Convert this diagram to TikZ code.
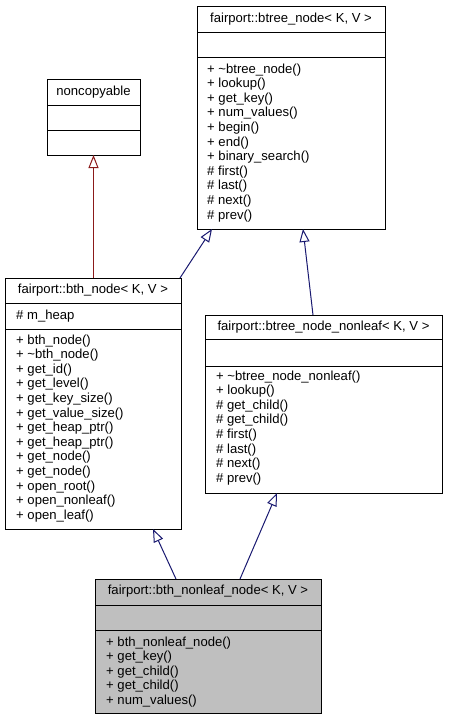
\documentclass[tikz,border=0pt]{standalone}
\usepackage{fontspec}
\setmainfont{Liberation Sans}
\usetikzlibrary{arrows.meta,calc}
\definecolor{edgeblue}{HTML}{191970}
\definecolor{edgered}{HTML}{8B1A1A}
\definecolor{boxgray}{HTML}{BFBFBF}
\tikzset{
  classbox/.style={draw=black, line width=1pt, anchor=north west, inner sep=0pt, outer sep=0pt},
  txt/.style={anchor=base west, inner sep=0pt, font=\fontsize{13.1}{14.6}\selectfont},
  ttl/.style={anchor=base, inner sep=0pt, font=\fontsize{13.1}{14.6}\selectfont},
  sepline/.style={line width=1pt},
  inherit/.style={-{Triangle[open,length=13pt,width=10pt]}, line width=1pt, draw=edgeblue},
  inheritred/.style={inherit, draw=edgered}
}
\begin{document}
\begin{tikzpicture}[x=1pt,y=-1pt]
\useasboundingbox (0,0) rectangle (448,720);
% noncopyable
\node[classbox, minimum width=93pt, minimum height=76pt] (nc) at (47,79) {};
\draw[sepline] (nc.west |- 0,105) -- (nc.east |- 0,105);
\draw[sepline] (nc.west |- 0,130) -- (nc.east |- 0,130);
\node[ttl] (nc-t) at (93.5,95) {noncopyable};
% btree_node
\node[classbox, minimum width=188pt, minimum height=223pt] (bt) at (197,6) {};
\draw[sepline] (bt.west |- 0,32) -- (bt.east |- 0,32);
\draw[sepline] (bt.west |- 0,57) -- (bt.east |- 0,57);
\node[ttl] (bt-t) at (291,22.5) {fairport::btree\_node< K, V >};
\foreach \t [count=\i from 0] in {+ \textasciitilde btree\_node(), + lookup(), + get\_key(), + num\_values(), + begin(), + end(), + binary\_search(), \# first(), \# last(), \# next(), \# prev()}
  \node[txt] (bt-\i) at (207,73+\i*14.6) {\t};
% bth_node
\node[classbox, minimum width=176pt, minimum height=251pt] (bth) at (5,278) {};
\draw[sepline] (bth.west |- 0,303) -- (bth.east |- 0,303);
\draw[sepline] (bth.west |- 0,329) -- (bth.east |- 0,329);
\node[ttl] (bth-t) at (93,293) {fairport::bth\_node< K, V >};
\node[txt] (bth-a) at (16,319) {\# m\_heap};
\foreach \t [count=\i from 0] in {+ bth\_node(), + \textasciitilde bth\_node(), + get\_id(), + get\_level(), + get\_key\_size(), + get\_value\_size(), + get\_heap\_ptr(), + get\_heap\_ptr(), + get\_node(), + get\_node(), + open\_root(), + open\_nonleaf(), + open\_leaf()}
  \node[txt] (bth-\i) at (16,344+\i*14.6) {\t};
% btree_node_nonleaf
\node[classbox, minimum width=237pt, minimum height=178pt] (nl) at (205,315) {};
\draw[sepline] (nl.west |- 0,339) -- (nl.east |- 0,339);
\draw[sepline] (nl.west |- 0,366) -- (nl.east |- 0,366);
\node[ttl] (nl-t) at (323.5,330) {fairport::btree\_node\_nonleaf< K, V >};
\foreach \t [count=\i from 0] in {+ \textasciitilde btree\_node\_nonleaf(), + lookup(), \# get\_child(), \# get\_child(), \# first(), \# last(), \# next(), \# prev()}
  \node[txt] (nl-\i) at (216,380+\i*14.6) {\t};
% bth_nonleaf_node
\node[classbox, fill=boxgray, minimum width=226pt, minimum height=134pt] (bnl) at (95,579) {};
\draw[sepline] (bnl.west |- 0,605) -- (bnl.east |- 0,605);
\draw[sepline] (bnl.west |- 0,630) -- (bnl.east |- 0,630);
\node[ttl] (bnl-t) at (208,594) {fairport::bth\_nonleaf\_node< K, V >};
\foreach \t [count=\i from 0] in {+ bth\_nonleaf\_node(), + get\_key(), + get\_child(), + get\_child(), + num\_values()}
  \node[txt] (bnl-\i) at (106,646+\i*14.6) {\t};
% inheritance edges
\draw[inheritred] (nc.south |- bth.north) -- (nc.south);
\draw[inherit] ($(bth.north east)+(-1,0)$) -- ($(bt.south west)+(15,0)$);
\draw[inherit] ($(nl.north west)+(108,0)$) -- ($(bt.south west)+(106,0)$);
\draw[inherit] ($(bnl.north west)+(81,0)$) -- ($(bth.south west)+(148,0)$);
\draw[inherit] ($(bnl.north west)+(145,0)$) -- ($(nl.south west)+(72,0)$);
\end{tikzpicture}
\end{document}
